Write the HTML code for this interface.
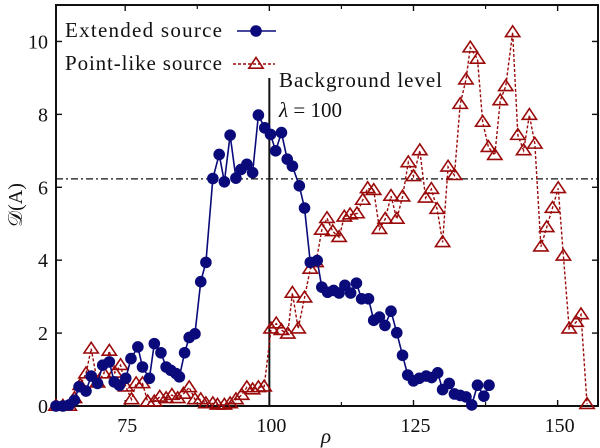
<!DOCTYPE html>
<html><head><meta charset="utf-8"><style>
html,body{margin:0;padding:0;background:#fff;width:600px;height:448px;overflow:hidden}
svg text{font-family:"Liberation Serif","DejaVu Serif",serif;fill:#111}
</style></head><body>
<svg id="chart" width="600" height="448" viewBox="0 0 600 448" xmlns="http://www.w3.org/2000/svg"></svg>
<script>
const extX=[63.0,64.2,65.3,66.2,67.0,68.2,69.1,70.2,71.1,72.25,73.1,74.0,75.1,76.0,77.2,78.0,79.2,80.05,81.2,82.1,82.9,83.8,84.4,85.3,86.1,87.1,88.1,89.0,90.2,91.3,92.2,93.2,94.2,95.1,96.1,97.1,98.1,99.2,100.2,101.1,102.1,103.1,104.0,105.2,106.1,107.1,108.3,109.1,110.1,111.15,112.1,113.1,114.1,115.1,116.0,117.2,118.1,119.1,120.05,121.1,122.1,123.1,124.0,125.0,126.0,127.2,128.15,129.2,130.05,131.2,132.1,133.1,134.1,135.1,136.1,137.2,138.1];
const extY=[0,0,0.03,0.16,0.53,0.41,0.82,0.62,1.12,1.21,0.66,0.57,0.76,1.30,1.62,1.07,0.76,1.71,1.46,1.07,0.98,0.89,0.80,1.46,1.88,1.98,3.41,3.94,6.24,6.90,6.15,7.43,6.25,6.49,6.63,6.40,7.98,7.63,7.45,7.0,7.5,6.77,6.58,6.04,5.43,3.94,3.99,3.26,3.12,3.17,3.1,3.31,3.1,3.37,2.94,2.94,2.35,2.44,2.21,2.6,2.01,1.39,0.85,0.69,0.76,0.82,0.78,0.91,0.45,0.62,0.33,0.29,0.25,0.03,0.57,0.27,0.57];
const ptX=[63.0,64.2,65.3,66.2,67.2,68.2,69.1,70.2,71.3,72.25,73.2,74.2,75.1,76.1,76.9,78.0,78.9,80.05,81.0,82.1,83.1,84.1,85.1,86.1,87.1,88.1,89.0,90.2,91.0,92.2,93.2,94.2,95.2,96.1,97.1,98.1,99.1,100.3,101.2,102.1,103.2,104.0,105.0,106.1,107.1,108.1,109.1,110.0,111.0,112.1,113.0,114.0,115.2,116.2,117.05,118.1,119.1,120.1,121.1,122.1,123.1,124.1,125.0,126.1,127.1,128.1,129.1,130.05,131.0,132.1,133.1,134.1,134.85,136.1,137.0,138.0,139.1,140.05,141.0,142.2,143.1,144.1,145.1,146.05,147.1,148.1,149.1,150.1,151.0,152.0,153.2,154.05,155.1];
const ptY=[0,0,0,0.21,0.57,0.89,1.57,0.64,0.89,1.51,0.91,1.12,0.53,0.18,0.62,0.62,0.12,0.12,0.25,0.21,0.30,0.21,0.33,0.51,0.18,0.18,0.07,0.07,0.03,0.03,0.07,0.18,0.3,0.51,0.45,0.51,0.53,2.12,2.26,2.08,1.98,3.1,2.12,2.97,3.76,3.94,4.83,5.15,4.79,4.63,5.19,5.25,5.28,5.65,5.97,5.92,4.85,5.13,5.76,5.13,5.74,6.68,6.3,7.01,5.71,5.95,5.4,4.49,6.56,6.33,8.28,8.95,9.83,9.52,7.79,7.1,6.88,8.38,8.77,10.25,7.43,7.01,7.98,7.19,4.37,4.9,5.43,5.97,4.12,2.12,2.3,2.51,0.05];
const xTicks=[75,100,125,150];
const xMinor=[62.5,87.5,112.5,137.5];
const yTicks=[0,2,4,6,8,10];
const bgLevel=6.23, bgLambda=100;

const L=56,R=598,T=5,B=406,xmin=63,xmax=157,ymin=0,ymax=11;
const sx=v=>L+(v-xmin)/(xmax-xmin)*(R-L);
const sy=v=>B-(v-ymin)/(ymax-ymin)*(B-T);
const svg=document.getElementById('chart');
const NS='http://www.w3.org/2000/svg';
const RED='#9a0a0a', BLUE='#0a0a7a';
function mk(tag,attrs,parent){const e=document.createElementNS(NS,tag);for(const k in attrs)e.setAttribute(k,attrs[k]);(parent||svg).appendChild(e);return e;}

let fr=mk('rect',{x:L,y:T,width:R-L,height:B-T,fill:'none',stroke:'#111','stroke-width':2});


xTicks.forEach(t=>{
  const x=sx(t);
  mk('line',{x1:x,y1:B,x2:x,y2:B-6,stroke:'#111','stroke-width':1.4});
  mk('line',{x1:x,y1:T,x2:x,y2:T+6,stroke:'#111','stroke-width':1.4});
  const tx=mk('text',{x:x+2,y:B+26,'font-size':20,'text-anchor':'middle'});tx.textContent=t;
  
  
});
xMinor.forEach(t=>{
  if(t<xmin)return;const x=sx(t);
  mk('line',{x1:x,y1:B,x2:x,y2:B-4,stroke:'#111','stroke-width':1.2});
  mk('line',{x1:x,y1:T,x2:x,y2:T+4,stroke:'#111','stroke-width':1.2});
});
yTicks.forEach(t=>{
  const y=sy(t);
  mk('line',{x1:L,y1:y,x2:L+6,y2:y,stroke:'#111','stroke-width':1.4});
  mk('line',{x1:R,y1:y,x2:R-6,y2:y,stroke:'#111','stroke-width':1.4});
  const tx=mk('text',{x:L-8,y:y+7,'font-size':20,'text-anchor':'end'});tx.textContent=t;
  
  
});
let xl=mk('text',{x:326,y:443,'font-size':21,'font-style':'italic','text-anchor':'middle'});xl.textContent='ρ';


let yl=mk('text',{x:0,y:0,'font-size':20,'text-anchor':'middle',transform:'translate(22,205) rotate(-90)'});yl.textContent='𝒟(A)';



let hl=mk('line',{x1:L,y1:sy(bgLevel),x2:R,y2:sy(bgLevel),stroke:'#111','stroke-width':1.2,'stroke-dasharray':'7,3,2,3'});


let vl=mk('line',{x1:sx(bgLambda),y1:78,x2:sx(bgLambda),y2:B,stroke:'#111','stroke-width':2});


let a1=mk('text',{x:279,y:87,'font-size':21,textLength:163,lengthAdjust:'spacing'});a1.textContent='Background level';


let a2=mk('text',{x:279,y:117,'font-size':21});a2.innerHTML='<tspan font-style="italic">λ</tspan> = 100';



function tri(cx,cy,s,parent){return mk('polygon',{points:`${cx},${cy-s} ${cx-s*1.1},${cy+s*0.65} ${cx+s*1.1},${cy+s*0.65}`,fill:'none',stroke:RED,'stroke-width':1.6},parent);}

let gp=mk('g',{});


mk('polyline',{points:ptX.map((x,i)=>sx(x)+','+sy(ptY[i])).join(' '),fill:'none',stroke:RED,'stroke-width':1.4,'stroke-dasharray':'3,2'},gp);
ptX.forEach((x,i)=>{const t=tri(sx(x),sy(ptY[i]),6.5,gp);
  
  });

let ge=mk('g',{});


mk('polyline',{points:extX.map((x,i)=>sx(x)+','+sy(extY[i])).join(' '),fill:'none',stroke:BLUE,'stroke-width':1.6},ge);
extX.forEach((x,i)=>{const c=mk('circle',{cx:sx(x),cy:sy(extY[i]),r:5.8,fill:BLUE},ge);
  
  });

let lg=mk('g',{});


let t1=mk('text',{x:65,y:37,'font-size':21,textLength:157,lengthAdjust:'spacing'},lg);t1.textContent='Extended source';


mk('line',{x1:237,y1:31,x2:276,y2:31,stroke:BLUE,'stroke-width':1.6},lg);
mk('circle',{cx:256,cy:31,r:5.8,fill:BLUE},lg);
let t2=mk('text',{x:65,y:70,'font-size':21,textLength:157,lengthAdjust:'spacing'},lg);t2.textContent='Point-like source';


mk('line',{x1:233,y1:64,x2:275,y2:64,stroke:RED,'stroke-width':1.4,'stroke-dasharray':'3,2'},lg);
tri(256,64,6.5,lg);
</script>
</body></html>
